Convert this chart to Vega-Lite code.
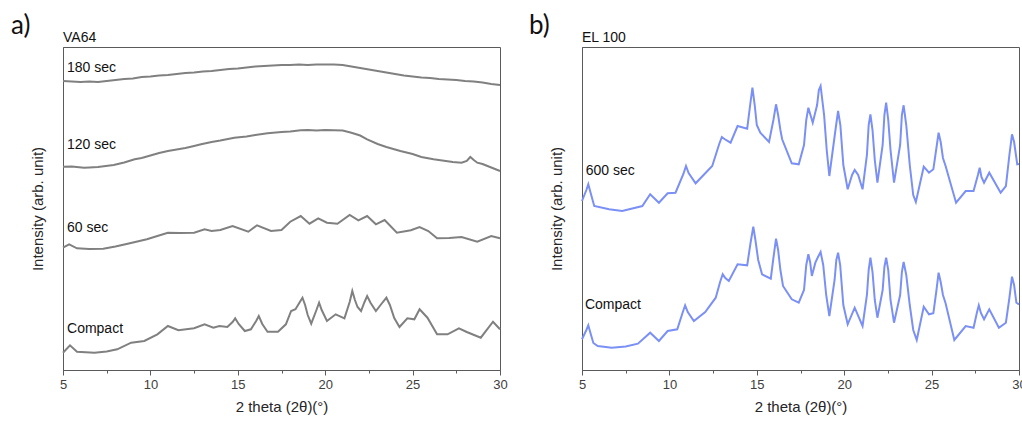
{
  "$schema": "https://vega.github.io/schema/vega-lite/v6.json",
  "padding": {"left": 10, "top": 12, "right": 0, "bottom": 0},
  "background": "white",
  "bounds": "flush",
  "spacing": 82,
  "datasets": {
    "L": [
      {"s":"180","t":5,"v":289},{"s":"180","t":5.5,"v":288.5},{"s":"180","t":6,"v":288},{"s":"180","t":6.5,"v":288.5},{"s":"180","t":7,"v":288},{"s":"180","t":7.5,"v":289},{"s":"180","t":8,"v":290},{"s":"180","t":8.5,"v":291},{"s":"180","t":9,"v":291.5},{"s":"180","t":9.5,"v":293},{"s":"180","t":10,"v":293.5},{"s":"180","t":10.5,"v":294.5},{"s":"180","t":11,"v":295},{"s":"180","t":11.5,"v":296},{"s":"180","t":12,"v":297},{"s":"180","t":12.5,"v":297.5},{"s":"180","t":13,"v":298.5},{"s":"180","t":13.5,"v":299},{"s":"180","t":14,"v":300},{"s":"180","t":14.5,"v":301},{"s":"180","t":15,"v":301.5},{"s":"180","t":15.5,"v":302.5},{"s":"180","t":16,"v":303.5},{"s":"180","t":16.5,"v":304},{"s":"180","t":17,"v":304.5},{"s":"180","t":17.5,"v":305},{"s":"180","t":18,"v":305},{"s":"180","t":18.5,"v":305.5},{"s":"180","t":19,"v":305},{"s":"180","t":19.5,"v":305.5},{"s":"180","t":20,"v":305.5},{"s":"180","t":20.5,"v":305.5},{"s":"180","t":21,"v":305},{"s":"180","t":21.5,"v":303.5},{"s":"180","t":22,"v":302},{"s":"180","t":22.5,"v":300.5},{"s":"180","t":23,"v":299},{"s":"180","t":23.5,"v":297.5},{"s":"180","t":24,"v":296},{"s":"180","t":24.5,"v":294.5},{"s":"180","t":25,"v":293.5},{"s":"180","t":25.5,"v":292.5},{"s":"180","t":26,"v":292},{"s":"180","t":26.5,"v":291},{"s":"180","t":27,"v":290.5},{"s":"180","t":27.5,"v":290},{"s":"180","t":28,"v":289},{"s":"180","t":28.5,"v":288.5},{"s":"180","t":29,"v":287.5},{"s":"180","t":29.5,"v":286},{"s":"180","t":30,"v":285},

      {"s":"120","t":5,"v":203.3},{"s":"120","t":5.5,"v":203.5},{"s":"120","t":6.2,"v":202.3},{"s":"120","t":6.5,"v":202.5},{"s":"120","t":7,"v":203},{"s":"120","t":7.9,"v":205},{"s":"120","t":8.5,"v":207.5},{"s":"120","t":9.1,"v":210.7},{"s":"120","t":9.5,"v":212},{"s":"120","t":10,"v":214.5},{"s":"120","t":10.5,"v":217},{"s":"120","t":11,"v":219},{"s":"120","t":11.5,"v":220.5},{"s":"120","t":12,"v":222},{"s":"120","t":12.5,"v":224},{"s":"120","t":12.9,"v":225.7},{"s":"120","t":13.5,"v":228},{"s":"120","t":14,"v":229.5},{"s":"120","t":14.8,"v":232.3},{"s":"120","t":15.5,"v":233.5},{"s":"120","t":16,"v":235},{"s":"120","t":16.7,"v":236.7},{"s":"120","t":17.5,"v":238},{"s":"120","t":18,"v":238.5},{"s":"120","t":18.6,"v":239.7},{"s":"120","t":19,"v":240},{"s":"120","t":19.5,"v":239.5},{"s":"120","t":20,"v":240},{"s":"120","t":20.5,"v":239.7},{"s":"120","t":21,"v":239.5},{"s":"120","t":21.5,"v":237.3},{"s":"120","t":22,"v":234.5},{"s":"120","t":22.4,"v":230.7},{"s":"120","t":23,"v":226},{"s":"120","t":23.5,"v":223},{"s":"120","t":24.3,"v":219},{"s":"120","t":25,"v":216},{"s":"120","t":25.5,"v":213},{"s":"120","t":26.2,"v":210.7},{"s":"120","t":26.7,"v":209.5},{"s":"120","t":27.3,"v":208},{"s":"120","t":27.8,"v":207.3},{"s":"120","t":28.1,"v":209},{"s":"120","t":28.3,"v":213},{"s":"120","t":28.5,"v":210},{"s":"120","t":28.7,"v":207.3},{"s":"120","t":29,"v":206},{"s":"120","t":29.5,"v":202.5},{"s":"120","t":30,"v":199},

      {"s":"60","t":5,"v":122.3},{"s":"60","t":5.35,"v":125.7},{"s":"60","t":5.8,"v":121.7},{"s":"60","t":6.5,"v":121},{"s":"60","t":7.3,"v":121.3},{"s":"60","t":8,"v":123.5},{"s":"60","t":8.7,"v":126.3},{"s":"60","t":9.8,"v":130.7},{"s":"60","t":10.4,"v":134},{"s":"60","t":11,"v":137.3},{"s":"60","t":11.7,"v":137},{"s":"60","t":12.5,"v":137.3},{"s":"60","t":13.1,"v":140.7},{"s":"60","t":13.5,"v":139},{"s":"60","t":14,"v":140},{"s":"60","t":14.7,"v":144},{"s":"60","t":15.6,"v":138.3},{"s":"60","t":16.1,"v":144.7},{"s":"60","t":16.9,"v":139},{"s":"60","t":17.5,"v":140},{"s":"60","t":18.0,"v":148.3},{"s":"60","t":18.6,"v":154},{"s":"60","t":19.1,"v":146.3},{"s":"60","t":19.6,"v":151.7},{"s":"60","t":20.1,"v":147.3},{"s":"60","t":20.7,"v":146.3},{"s":"60","t":21.4,"v":155},{"s":"60","t":21.9,"v":149.7},{"s":"60","t":22.4,"v":154},{"s":"60","t":22.9,"v":145.7},{"s":"60","t":23.4,"v":150},{"s":"60","t":24.1,"v":137.3},{"s":"60","t":24.9,"v":139.7},{"s":"60","t":25.4,"v":143},{"s":"60","t":25.9,"v":139},{"s":"60","t":26.4,"v":131.7},{"s":"60","t":27.1,"v":132},{"s":"60","t":27.8,"v":133},{"s":"60","t":28.7,"v":128.3},{"s":"60","t":29.5,"v":134},{"s":"60","t":30,"v":131.7},

      {"s":"C","t":5,"v":17.3},{"s":"C","t":5.4,"v":24.7},{"s":"C","t":5.8,"v":18.3},{"s":"C","t":6.8,"v":17.3},{"s":"C","t":7.5,"v":18.5},{"s":"C","t":8.1,"v":20.7},{"s":"C","t":8.9,"v":27.3},{"s":"C","t":9.65,"v":29},{"s":"C","t":10.4,"v":35.7},{"s":"C","t":11.0,"v":44},{"s":"C","t":11.6,"v":39.7},{"s":"C","t":12.5,"v":41.7},{"s":"C","t":13.1,"v":45.7},{"s":"C","t":13.6,"v":42.3},{"s":"C","t":13.95,"v":44},{"s":"C","t":14.4,"v":43},{"s":"C","t":14.7,"v":48},{"s":"C","t":14.85,"v":51.7},{"s":"C","t":15.05,"v":46},{"s":"C","t":15.4,"v":39},{"s":"C","t":15.75,"v":40.7},{"s":"C","t":16.05,"v":49},{"s":"C","t":16.2,"v":54},{"s":"C","t":16.4,"v":46},{"s":"C","t":16.7,"v":38.3},{"s":"C","t":17.3,"v":38.3},{"s":"C","t":17.75,"v":45.7},{"s":"C","t":18.05,"v":59},{"s":"C","t":18.3,"v":60.7},{"s":"C","t":18.55,"v":68},{"s":"C","t":18.7,"v":72.3},{"s":"C","t":18.85,"v":65},{"s":"C","t":19.0,"v":55},{"s":"C","t":19.2,"v":46.3},{"s":"C","t":19.5,"v":60},{"s":"C","t":19.65,"v":67.3},{"s":"C","t":19.8,"v":60},{"s":"C","t":20.1,"v":49},{"s":"C","t":20.6,"v":55.7},{"s":"C","t":21.1,"v":51.7},{"s":"C","t":21.4,"v":68},{"s":"C","t":21.55,"v":79},{"s":"C","t":21.7,"v":70},{"s":"C","t":21.85,"v":63},{"s":"C","t":22.05,"v":59},{"s":"C","t":22.25,"v":68},{"s":"C","t":22.4,"v":74},{"s":"C","t":22.6,"v":67},{"s":"C","t":22.9,"v":59},{"s":"C","t":23.3,"v":68},{"s":"C","t":23.5,"v":72.3},{"s":"C","t":23.7,"v":65},{"s":"C","t":23.95,"v":52},{"s":"C","t":24.25,"v":43},{"s":"C","t":24.7,"v":51.7},{"s":"C","t":25.1,"v":50.7},{"s":"C","t":25.4,"v":60.7},{"s":"C","t":25.85,"v":52.3},{"s":"C","t":26.4,"v":35.7},{"s":"C","t":27.0,"v":35.7},{"s":"C","t":27.65,"v":41.7},{"s":"C","t":28.1,"v":38},{"s":"C","t":28.9,"v":32.3},{"s":"C","t":29.6,"v":48.3},{"s":"C","t":30,"v":40.7}
    ],
    "R": [
      {"s":"600","t":5,"v":169},{"s":"600","t":5.25,"v":180},{"s":"600","t":5.36,"v":185.7},{"s":"600","t":5.48,"v":178},{"s":"600","t":5.7,"v":164},{"s":"600","t":6.55,"v":160.7},{"s":"600","t":7.3,"v":159},{"s":"600","t":8.45,"v":164},{"s":"600","t":8.9,"v":175.7},{"s":"600","t":9.4,"v":167.3},{"s":"600","t":9.9,"v":176.7},{"s":"600","t":10.35,"v":177.3},{"s":"600","t":10.8,"v":196},{"s":"600","t":10.95,"v":204},{"s":"600","t":11.1,"v":197},{"s":"600","t":11.5,"v":186.7},{"s":"600","t":12.45,"v":204},{"s":"600","t":12.85,"v":226},{"s":"600","t":13.0,"v":233},{"s":"600","t":13.15,"v":231},{"s":"600","t":13.5,"v":227.3},{"s":"600","t":13.9,"v":244},{"s":"600","t":14.45,"v":241.3},{"s":"600","t":14.62,"v":265},{"s":"600","t":14.75,"v":282.3},{"s":"600","t":14.88,"v":265},{"s":"600","t":15.0,"v":245},{"s":"600","t":15.2,"v":237.3},{"s":"600","t":15.7,"v":228},{"s":"600","t":15.95,"v":250},{"s":"600","t":16.1,"v":265.7},{"s":"600","t":16.22,"v":255},{"s":"600","t":16.35,"v":240},{"s":"600","t":16.45,"v":230.7},{"s":"600","t":17.0,"v":206.7},{"s":"600","t":17.4,"v":205.7},{"s":"600","t":17.7,"v":225},{"s":"600","t":17.83,"v":250},{"s":"600","t":17.95,"v":262.3},{"s":"600","t":18.07,"v":255},{"s":"600","t":18.2,"v":247.3},{"s":"600","t":18.45,"v":265},{"s":"600","t":18.55,"v":280},{"s":"600","t":18.65,"v":284},{"s":"600","t":18.85,"v":255},{"s":"600","t":19.0,"v":220},{"s":"600","t":19.15,"v":194},{"s":"600","t":19.5,"v":240},{"s":"600","t":19.65,"v":259},{"s":"600","t":19.78,"v":245},{"s":"600","t":19.95,"v":205},{"s":"600","t":20.2,"v":180.7},{"s":"600","t":20.45,"v":195},{"s":"600","t":20.6,"v":200},{"s":"600","t":20.8,"v":195},{"s":"600","t":21.05,"v":180.7},{"s":"600","t":21.3,"v":215},{"s":"600","t":21.4,"v":245},{"s":"600","t":21.5,"v":255.7},{"s":"600","t":21.62,"v":240},{"s":"600","t":21.75,"v":210},{"s":"600","t":21.9,"v":187.3},{"s":"600","t":22.2,"v":225},{"s":"600","t":22.3,"v":255},{"s":"600","t":22.4,"v":267.3},{"s":"600","t":22.52,"v":250},{"s":"600","t":22.65,"v":220},{"s":"600","t":22.85,"v":187.3},{"s":"600","t":23.2,"v":225},{"s":"600","t":23.3,"v":255},{"s":"600","t":23.4,"v":264.7},{"s":"600","t":23.55,"v":245},{"s":"600","t":23.75,"v":205},{"s":"600","t":23.95,"v":175},{"s":"600","t":24.1,"v":168},{"s":"600","t":24.55,"v":203.3},{"s":"600","t":24.85,"v":197.3},{"s":"600","t":25.1,"v":200.7},{"s":"600","t":25.3,"v":225},{"s":"600","t":25.4,"v":237.3},{"s":"600","t":25.52,"v":228},{"s":"600","t":25.65,"v":212},{"s":"600","t":25.8,"v":204},{"s":"600","t":26.4,"v":167.3},{"s":"600","t":26.95,"v":179},{"s":"600","t":27.4,"v":179},{"s":"600","t":27.65,"v":195},{"s":"600","t":27.75,"v":202.3},{"s":"600","t":27.85,"v":193},{"s":"600","t":28.0,"v":187.3},{"s":"600","t":28.3,"v":197.3},{"s":"600","t":28.95,"v":177.3},{"s":"600","t":29.25,"v":184},{"s":"600","t":29.45,"v":215},{"s":"600","t":29.6,"v":235.7},{"s":"600","t":29.72,"v":228},{"s":"600","t":29.9,"v":205.7},{"s":"600","t":30,"v":206},

      {"s":"C","t":5,"v":30.7},{"s":"C","t":5.25,"v":40},{"s":"C","t":5.36,"v":44.7},{"s":"C","t":5.5,"v":36},{"s":"C","t":5.65,"v":27},{"s":"C","t":5.9,"v":24},{"s":"C","t":6.7,"v":22.3},{"s":"C","t":7.5,"v":23.5},{"s":"C","t":8.2,"v":26.3},{"s":"C","t":8.9,"v":37.3},{"s":"C","t":9.4,"v":29},{"s":"C","t":9.9,"v":39},{"s":"C","t":10.45,"v":40.7},{"s":"C","t":10.75,"v":57},{"s":"C","t":10.9,"v":64.7},{"s":"C","t":11.05,"v":58},{"s":"C","t":11.4,"v":49},{"s":"C","t":12.05,"v":58},{"s":"C","t":12.65,"v":72.3},{"s":"C","t":12.9,"v":88},{"s":"C","t":13.05,"v":95.7},{"s":"C","t":13.2,"v":92},{"s":"C","t":13.4,"v":89},{"s":"C","t":13.9,"v":105.7},{"s":"C","t":14.45,"v":104.7},{"s":"C","t":14.65,"v":128},{"s":"C","t":14.8,"v":143.3},{"s":"C","t":14.92,"v":130},{"s":"C","t":15.08,"v":110},{"s":"C","t":15.3,"v":95.7},{"s":"C","t":15.8,"v":91.3},{"s":"C","t":15.95,"v":112},{"s":"C","t":16.1,"v":131.3},{"s":"C","t":16.22,"v":120},{"s":"C","t":16.35,"v":100},{"s":"C","t":16.5,"v":84},{"s":"C","t":17.0,"v":70.7},{"s":"C","t":17.4,"v":67.3},{"s":"C","t":17.7,"v":80},{"s":"C","t":17.83,"v":105},{"s":"C","t":17.95,"v":115.7},{"s":"C","t":18.05,"v":108},{"s":"C","t":18.15,"v":94},{"s":"C","t":18.35,"v":107.3},{"s":"C","t":18.5,"v":113},{"s":"C","t":18.65,"v":118},{"s":"C","t":18.8,"v":105},{"s":"C","t":18.97,"v":75},{"s":"C","t":19.15,"v":54},{"s":"C","t":19.45,"v":90},{"s":"C","t":19.55,"v":110},{"s":"C","t":19.65,"v":117.3},{"s":"C","t":19.77,"v":105},{"s":"C","t":19.95,"v":65},{"s":"C","t":20.2,"v":45.7},{"s":"C","t":20.6,"v":62.3},{"s":"C","t":21.05,"v":44},{"s":"C","t":21.3,"v":75},{"s":"C","t":21.4,"v":100},{"s":"C","t":21.5,"v":112.3},{"s":"C","t":21.62,"v":98},{"s":"C","t":21.75,"v":70},{"s":"C","t":21.9,"v":52.3},{"s":"C","t":22.2,"v":80},{"s":"C","t":22.3,"v":103},{"s":"C","t":22.4,"v":112.3},{"s":"C","t":22.52,"v":100},{"s":"C","t":22.65,"v":70},{"s":"C","t":22.85,"v":47.3},{"s":"C","t":23.2,"v":75},{"s":"C","t":23.3,"v":98},{"s":"C","t":23.4,"v":108},{"s":"C","t":23.55,"v":95},{"s":"C","t":23.75,"v":65},{"s":"C","t":23.95,"v":40},{"s":"C","t":24.15,"v":30},{"s":"C","t":24.55,"v":63.3},{"s":"C","t":24.85,"v":55.7},{"s":"C","t":25.1,"v":56.7},{"s":"C","t":25.28,"v":80},{"s":"C","t":25.4,"v":97.3},{"s":"C","t":25.52,"v":88},{"s":"C","t":25.65,"v":75},{"s":"C","t":25.8,"v":66.7},{"s":"C","t":26.3,"v":30},{"s":"C","t":26.95,"v":44},{"s":"C","t":27.4,"v":42.3},{"s":"C","t":27.6,"v":58},{"s":"C","t":27.7,"v":64.7},{"s":"C","t":27.82,"v":57},{"s":"C","t":28.0,"v":50.7},{"s":"C","t":28.3,"v":60.7},{"s":"C","t":28.85,"v":42.3},{"s":"C","t":29.25,"v":47.3},{"s":"C","t":29.45,"v":72},{"s":"C","t":29.6,"v":93.3},{"s":"C","t":29.72,"v":85},{"s":"C","t":29.85,"v":67.3},{"s":"C","t":30,"v":65.7}
    ],
    "LL": [
      {"label":"180 sec","t":5.23,"v":302.3},
      {"label":"120 sec","t":5.23,"v":225},
      {"label":"60 sec","t":5.23,"v":141.7},
      {"label":"Compact","t":5.23,"v":40.7},
      {"label":"VA64","t":5.0,"v":332}
    ],
    "RL": [
      {"label":"600 sec","t":5.21,"v":199},
      {"label":"Compact","t":5.17,"v":64.7},
      {"label":"EL 100","t":5.0,"v":332}
    ]
  },
  "config": {
    "view": {"stroke": "#5a5a5a", "strokeWidth": 1},
    "axis": {
      "grid": false,
      "domainColor": "#5a5a5a",
      "tickColor": "#5a5a5a",
      "labelFont": "Liberation Sans",
      "labelFontSize": 13,
      "labelColor": "#404040",
      "titleFont": "Liberation Sans",
      "titleFontSize": 15,
      "titleFontWeight": "normal",
      "titleColor": "#262626"
    }
  },
  "hconcat": [
    {
      "width": 437,
      "height": 323,
      "layer": [
        {
          "data": {"name": "L"},
          "mark": {"type": "line", "color": "#808080", "strokeWidth": 2},
          "encoding": {
            "x": {"field": "t", "type": "quantitative", "scale": {"domain": [5, 30]},
              "axis": {"title": "2 theta (2θ)(°)", "values": [5, 7.5, 10, 12.5, 15, 17.5, 20, 22.5, 25, 27.5, 30],
                "labelExpr": "datum.value % 5 === 0 ? datum.label : ''", "labelFlush": false, "labelOverlap": false,
                "tickSize": {"condition": {"test": "datum.value % 5 === 0", "value": 5}, "value": 3},
                "labelPadding": 3, "titlePadding": 8}},
            "y": {"field": "v", "type": "quantitative", "scale": {"domain": [0, 323]},
              "axis": {"title": "Intensity (arb. unit)", "labels": false, "ticks": false, "titlePadding": 18}},
            "detail": {"field": "s"}
          }
        },
        {
          "data": {"name": "LL"},
          "mark": {"type": "text", "align": "left", "baseline": "middle", "font": "Liberation Sans", "fontSize": 14, "color": "#111"},
          "encoding": {
            "x": {"field": "t", "type": "quantitative", "scale": {"domain": [5, 30]}},
            "y": {"field": "v", "type": "quantitative", "scale": {"domain": [0, 323]}},
            "text": {"field": "label"}
          }
        },
        {
          "data": {"values": [{"label": "a)", "t": 2.03, "v": 344}]},
          "mark": {"type": "text", "align": "left", "baseline": "middle", "font": "Lato", "fontSize": 26, "color": "#111"},
          "encoding": {
            "x": {"field": "t", "type": "quantitative", "scale": {"domain": [5, 30]}},
            "y": {"field": "v", "type": "quantitative", "scale": {"domain": [0, 323]}},
            "text": {"field": "label"}
          }
        }
      ]
    },
    {
      "width": 437,
      "height": 323,
      "layer": [
        {
          "data": {"name": "R"},
          "mark": {"type": "line", "color": "#7b90f5", "strokeWidth": 2},
          "encoding": {
            "x": {"field": "t", "type": "quantitative", "scale": {"domain": [5, 30]},
              "axis": {"title": "2 theta (2θ)(°)", "values": [5, 7.5, 10, 12.5, 15, 17.5, 20, 22.5, 25, 27.5, 30],
                "labelExpr": "datum.value % 5 === 0 ? datum.label : ''", "labelFlush": false, "labelOverlap": false,
                "tickSize": {"condition": {"test": "datum.value % 5 === 0", "value": 5}, "value": 3},
                "labelPadding": 3, "titlePadding": 8}},
            "y": {"field": "v", "type": "quantitative", "scale": {"domain": [0, 323]},
              "axis": {"title": "Intensity (arb. unit)", "labels": false, "ticks": false, "titlePadding": 18}},
            "detail": {"field": "s"}
          }
        },
        {
          "data": {"name": "RL"},
          "mark": {"type": "text", "align": "left", "baseline": "middle", "font": "Liberation Sans", "fontSize": 14, "color": "#111"},
          "encoding": {
            "x": {"field": "t", "type": "quantitative", "scale": {"domain": [5, 30]}},
            "y": {"field": "v", "type": "quantitative", "scale": {"domain": [0, 323]}},
            "text": {"field": "label"}
          }
        },
        {
          "data": {"values": [{"label": "b)", "t": 1.97, "v": 344}]},
          "mark": {"type": "text", "align": "left", "baseline": "middle", "font": "Lato", "fontSize": 26, "color": "#111"},
          "encoding": {
            "x": {"field": "t", "type": "quantitative", "scale": {"domain": [5, 30]}},
            "y": {"field": "v", "type": "quantitative", "scale": {"domain": [0, 323]}},
            "text": {"field": "label"}
          }
        }
      ]
    }
  ]
}
